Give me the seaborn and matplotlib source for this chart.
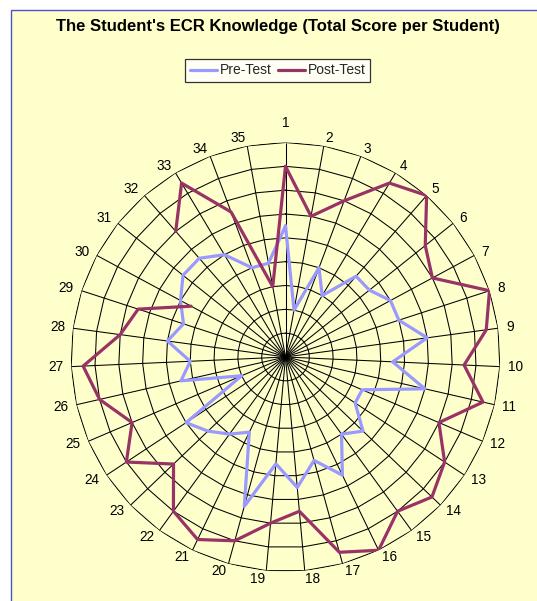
import numpy as np
import pandas as pd
import matplotlib
matplotlib.use("Agg")
import matplotlib.pyplot as plt
from matplotlib.lines import Line2D
from matplotlib.patches import Rectangle
import seaborn as sns

# ---- data ----
students = [str(i) for i in range(1, 36)]
pre_test = [11, 4, 8, 6, 9, 9, 10, 10, 12, 9, 12, 7, 7, 9, 8, 11, 9, 11, 9, 13,
            7, 8, 9, 10, 4, 9, 8, 10, 9, 10, 11, 11, 10, 8, 8]
post_test = [16, 12, 14, 17, 18, 15, 14, 18, 17, 15, 17, 14, 16, 17, 16, 18, 17, 13, 14, 16,
             17, 16, 13, 16, 14, 16, 17, 14, 13, 9, np.nan, 14, 17, 13, 6]
series_names = ["Pre-Test", "Post-Test"]
series_colors = ["#9999FF", "#993366"]
r_max = 18
r_step = 2
title = "The Student's ECR Knowledge (Total Score per Student)"

sns.set_style("white")
plt.rcParams['font.family'] = ['Liberation Sans', 'DejaVu Sans']

W, H = 537, 601
fig = plt.figure(figsize=(W / 100, H / 100), dpi=100)
fig.patch.set_facecolor("white")

# chart area background with border
fig.patches.append(Rectangle((11 / W, -0.05), 1.2, 1 - 10 / H + 0.05,
                             transform=fig.transFigure, facecolor="#FFFFCC",
                             edgecolor="#4F4FC8", linewidth=1.0, zorder=-10))

cx, cy, R = 285.5, 357.0, 214.5
ax = fig.add_axes([(cx - R) / W, (H - cy - R) / H, 2 * R / W, 2 * R / H], projection="polar")
ax.set_facecolor("none")
ax.set_theta_zero_location("N")
ax.set_theta_direction(-1)
ax.set_ylim(0, r_max)
ax.grid(False)
ax.set_xticks([])
ax.set_yticks([])
ax.spines["polar"].set_visible(False)

n = len(students)
step = 2 * np.pi / n
thetas = np.arange(n) * step

# polygon gridlines
ring_theta = np.append(thetas, 2 * np.pi)
for rv in np.arange(r_step, r_max + 0.1, r_step):
    ax.plot(ring_theta, np.full(len(ring_theta), rv), color="black", lw=0.75, zorder=1)
# spokes
ax.vlines(thetas, 0, r_max, color="black", lw=0.75, zorder=1)

# build data with gaps for missing values
rows = []
for name, vals in zip(series_names, [pre_test, post_test]):
    seg = 0
    seq = list(range(n)) + [0]
    for j, idx in enumerate(seq):
        v = vals[idx]
        if v is None or (isinstance(v, float) and np.isnan(v)):
            seg += 1
            continue
        th = thetas[idx] if j < n else 2 * np.pi
        rows.append({"theta": th, "score": v, "test": name, "seg": f"{name}-{seg}"})
df = pd.DataFrame(rows)

sns.lineplot(data=df, x="theta", y="score", hue="test", units="seg", estimator=None,
             sort=False, palette=dict(zip(series_names, series_colors)),
             linewidth=2.3, legend=False, ax=ax, zorder=3)
ax.set_xlabel("")
ax.set_ylabel("")
ax.set_ylim(0, r_max)

# category labels (Excel-like placement)
gap = 8.0
for th, lab in zip(thetas, students):
    s, c = np.sin(th), np.cos(th)
    if abs(s) < 1e-9:
        ha, va = "center", "bottom"
        ox, oy = 0, 13
    else:
        ha = "left" if s > 0 else "right"
        va = "center"
        ox, oy = gap * s, gap * c
    ax.annotate(lab, xy=(th, r_max), xytext=(ox, oy), textcoords="offset pixels",
                ha=ha, va=va, fontsize=9.8, color="black")

fig.text(277.5 / W, 1 - 26.5 / H, title, ha="center", va="center",
         fontsize=12, fontweight="bold", color="black")

handles = [Line2D([0], [0], color=c, lw=2.3) for c in series_colors]
leg = fig.legend(handles, series_names, loc="center", ncol=2,
                 bbox_to_anchor=(277.5 / W, 1 - 70.5 / H), fontsize=10,
                 frameon=True, fancybox=False, edgecolor="black", facecolor="white",
                 handlelength=1.95, handletextpad=0.2, columnspacing=0.45,
                 borderpad=0.3, borderaxespad=0)
leg.get_frame().set_linewidth(0.9)

fig.savefig("out.png", dpi=100, facecolor=fig.get_facecolor())
